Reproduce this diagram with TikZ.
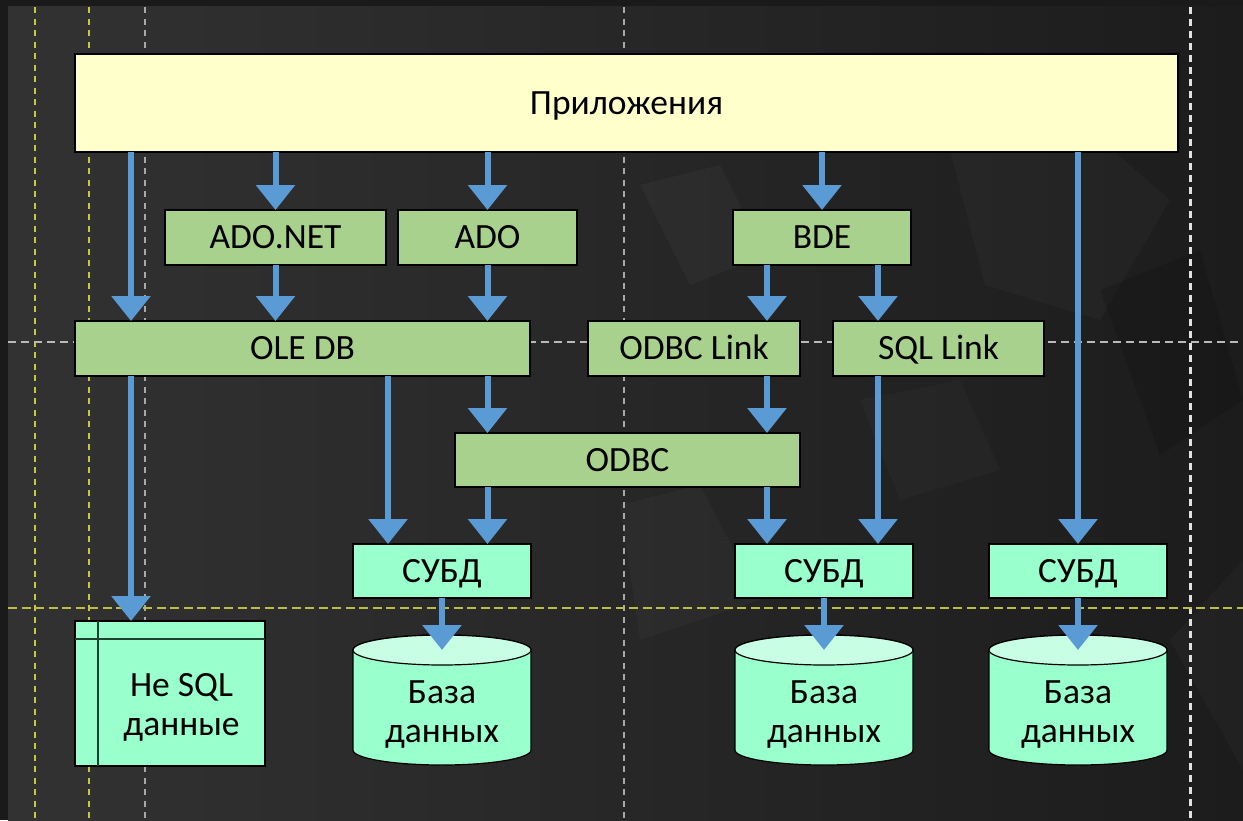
\documentclass[tikz,border=0pt]{standalone}
\usepackage{fontspec}
\setmainfont{Carlito}
\usetikzlibrary{arrows.meta,calc}
\definecolor{frameC}{HTML}{1A1A1A}
\definecolor{bgL}{HTML}{323232}
\definecolor{bgR}{HTML}{1C1C1C}
\definecolor{appyellow}{HTML}{FFFFCC}
\definecolor{drvgreen}{HTML}{A9D18E}
\definecolor{dbaqua}{HTML}{99FFCC}
\definecolor{dbtop}{HTML}{C8FFE4}
\definecolor{arrowblue}{HTML}{5B9BD5}
\definecolor{yelDash}{HTML}{C8C83C}
\definecolor{grayDash}{HTML}{A8A8A8}
\definecolor{whiteDash}{HTML}{E2E2E2}
\definecolor{innerLine}{HTML}{1F3F2F}
\pgfdeclarelayer{back}
\pgfdeclarelayer{grid}
\pgfdeclarelayer{shapes}
\pgfsetlayers{back,grid,shapes,main}
\begin{document}
\begin{tikzpicture}[x=1pt,y=-1pt,
  font=\fontsize{35.5}{39}\selectfont,
  box/.style={draw=black,line width=1.2pt,inner sep=0pt,outer sep=0pt,text=black,text height=22.5pt,text depth=0pt},
  appbox/.style={box,fill=appyellow},
  grnbox/.style={box,fill=drvgreen},
  aquabox/.style={box,fill=dbaqua},
  dbtext/.style={draw=none,inner sep=0pt,outer sep=0pt,minimum width=178pt,minimum height=115pt,align=center,text=black},
  arr/.style={draw=arrowblue,line width=6pt,-{Triangle[width=38pt,length=25pt]}},
  ydash/.style={draw=yelDash,line width=2.4pt,dash pattern=on 6pt off 5.5pt},
  gdash/.style={draw=grayDash,line width=2.4pt,dash pattern=on 6pt off 5.5pt},
  wdash/.style={draw=whiteDash,line width=3pt,dash pattern=on 7pt off 5pt},
  hwdash/.style={draw=grayDash!80!white,line width=2.4pt,dash pattern=on 8pt off 5pt},
  hydash/.style={draw=yelDash!85!gray,line width=2.4pt,dash pattern=on 9pt off 4.5pt},
  cyl/.style={draw=black,line width=1.2pt,fill=dbaqua},
  cyltop/.style={draw=black,line width=1.2pt,fill=dbtop}
]
\useasboundingbox (0,0) rectangle (1243,820);

% background
\begin{pgfonlayer}{back}
  \fill[frameC] (0,0) rectangle (1243,820);
  \shade[left color=bgL,right color=bgR] (8,6) rectangle (1243,820);
  \fill[white,opacity=0.03] (640,185) -- (720,165) -- (765,255) -- (690,285) -- cycle;
  \fill[white,opacity=0.025] (950,150) -- (1050,95) -- (1170,200) -- (1100,320) -- (985,285) -- cycle;
  \fill[black,opacity=0.12] (1100,290) -- (1200,250) -- (1243,400) -- (1160,455) -- cycle;
  \fill[white,opacity=0.025] (620,505) -- (700,485) -- (760,600) -- (640,640) -- cycle;
  \fill[white,opacity=0.025] (1170,640) -- (1243,560) -- (1243,770) -- cycle;
  \fill[white,opacity=0.02] (860,400) -- (960,380) -- (1000,470) -- (900,500) -- cycle;
\end{pgfonlayer}

% guide lines
\begin{pgfonlayer}{grid}
  \draw[ydash] (35,7) -- (35,820);
  \draw[ydash] (89,7) -- (89,820);
  \draw[gdash] (145,7) -- (145,820);
  \draw[gdash] (624,7) -- (624,820);
  \draw[wdash] (1190,7) -- (1190,820);
  \draw[hwdash] (8,342) -- (1243,342);
  \draw[hydash] (8,608) -- (1243,608);
\end{pgfonlayer}

% column coordinates
\coordinate (cA) at (131,0);
\coordinate (cO) at (388,0);
\coordinate (cL) at (767,0);
\coordinate (cS) at (878,0);

% nodes
\node[appbox,minimum width=1103pt,minimum height=98pt] (app) at (626.5,103) {Приложения};
\node[grnbox,minimum width=221pt,minimum height=55pt] (adonet) at (275.5,237.5) {ADO.NET};
\node[grnbox,minimum width=179pt,minimum height=55pt] (ado) at (487.5,237.5) {ADO};
\node[grnbox,minimum width=178pt,minimum height=55pt] (bde) at (822,237.5) {BDE};
\node[grnbox,minimum width=455pt,minimum height=55pt] (ole) at (302.5,348.5) {OLE DB};
\node[grnbox,minimum width=212pt,minimum height=55pt] (odbclink) at (694,348.5) {ODBC Link};
\node[grnbox,minimum width=211pt,minimum height=55pt] (sqllink) at (938.5,348.5) {SQL Link};
\node[grnbox,minimum width=345pt,minimum height=54pt] (odbc) at (627.5,460) {ODBC};
\node[aquabox,minimum width=178pt,minimum height=54pt] (subd1) at (442,571) {СУБД};
\node[aquabox,minimum width=178pt,minimum height=54pt] (subd2) at (824,571) {СУБД};
\node[aquabox,minimum width=178pt,minimum height=54pt] (subd3) at (1078,571) {СУБД};

% non-SQL data store
\node[draw=black,line width=1.2pt,fill=dbaqua,inner sep=0pt,outer sep=0pt,minimum width=190pt,minimum height=145pt] (nosql) at (170,693.5) {};
\draw[innerLine,line width=1.2pt] ($(nosql.north west)+(23,0)$) -- ($(nosql.south west)+(23,0)$);
\draw[innerLine,line width=1.2pt] ($(nosql.north west)+(0,18)$) -- ($(nosql.north east)+(0,18)$);
\node[align=center,text=black,inner sep=0pt] (nosqltext) at ($(nosql.center)+(11.5,14)$) {Не SQL\\данные};

% databases
\node[dbtext] (db1) at (442,707.5) {\rule{0pt}{36pt}База\\данных};
\node[dbtext] (db2) at (824,707.5) {\rule{0pt}{36pt}База\\данных};
\node[dbtext] (db3) at (1078,707.5) {\rule{0pt}{36pt}База\\данных};
\begin{pgfonlayer}{shapes}
  \foreach \d in {db1,db2,db3}{
    \draw[cyl] (\d.north west) -- ($(\d.south west)+(0,-15)$)
      arc[start angle=180,end angle=360,x radius=89pt,y radius=15pt]
      -- (\d.north east)
      arc[start angle=0,end angle=180,x radius=89pt,y radius=15pt] -- cycle;
    \draw[cyltop] (\d.north) ellipse[x radius=89pt,y radius=15pt];
  }
\end{pgfonlayer}

% connectors
\draw[arr] (app.south -| cA) -- (ole.north -| cA);
\draw[arr] (app.south -| adonet.north) -- (adonet.north);
\draw[arr] (app.south -| ado.north) -- (ado.north);
\draw[arr] (app.south -| bde.north) -- (bde.north);
\draw[arr] (app.south -| subd3.north) -- (subd3.north);
\draw[arr] (adonet.south) -- (adonet.south |- ole.north);
\draw[arr] (ado.south) -- (ado.south |- ole.north);
\draw[arr] (bde.south -| cL) -- (odbclink.north -| cL);
\draw[arr] (bde.south -| cS) -- (sqllink.north -| cS);
\draw[arr] (ole.south -| cA) -- (nosql.north -| cA);
\draw[arr] (ole.south -| cO) -- (subd1.north -| cO);
\draw[arr] (ole.south -| ado.south) -- (odbc.north -| ado.south);
\draw[arr] (odbclink.south -| cL) -- (odbc.north -| cL);
\draw[arr] (odbc.south -| ado.south) -- (subd1.north -| ado.south);
\draw[arr] (odbc.south -| cL) -- (subd2.north -| cL);
\draw[arr] (sqllink.south -| cS) -- (subd2.north -| cS);
\draw[arr] (subd1.south) -- (db1.north);
\draw[arr] (subd2.south) -- (db2.north);
\draw[arr] (subd3.south) -- (db3.north);
\end{tikzpicture}
\end{document}
